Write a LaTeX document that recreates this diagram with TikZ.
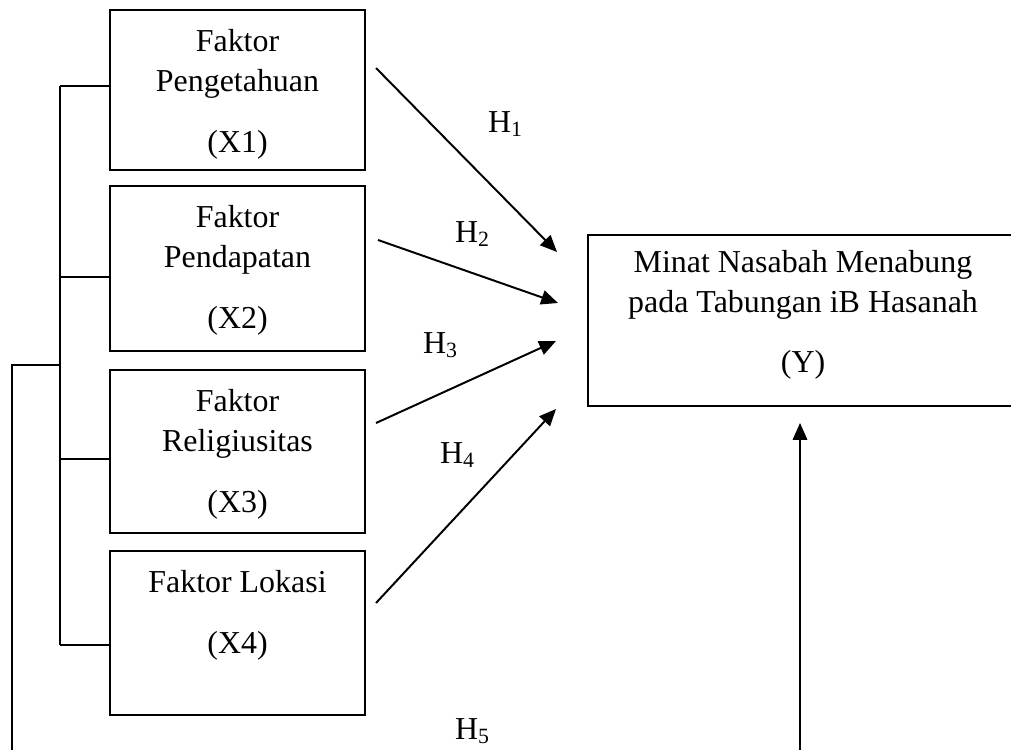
\documentclass[tikz,border=0pt]{standalone}
\usepackage{fontspec}
\setmainfont{Liberation Serif}
\usetikzlibrary{arrows.meta}

\tikzset{
  factor/.style={draw, line width=1.4pt, anchor=north west, inner sep=0pt,
    font=\fontsize{22.7}{28.5}\selectfont},
  hypo/.style={font=\fontsize{22.7}{28.5}\selectfont},
  link/.style={line width=1.4pt},
  arrow/.style={line width=1.4pt, -{Triangle[length=0.42cm, width=0.36cm]}}
}

% text of a box, set from its top edge
\newcommand{\boxtext}[4]{\parbox[c][#1][t]{#2}{\vspace*{#3}\centering #4}}
% Word-like subscript of a hypothesis
\newcommand{\hsub}[1]{\raisebox{-2.5pt}{\fontsize{15.5}{15.5}\selectfont #1}}

\begin{document}
\begin{tikzpicture}[x=0.025cm, y=-0.025cm]

    \useasboundingbox (0,0) rectangle (1011,749);
    \clip (0,0) rectangle (1011,749);

    % Draw the four factor boxes
    \node[factor] (x1) at (109,9)
      {\boxtext{4cm}{6.375cm}{0.48cm}{Faktor\\Pengetahuan\\[15pt](X1)}};
    \node[factor] (x2) at (109,185)
      {\boxtext{4.125cm}{6.375cm}{0.48cm}{Faktor\\Pendapatan\\[15pt](X2)}};
    \node[factor] (x3) at (109,369)
      {\boxtext{4.075cm}{6.375cm}{0.48cm}{Faktor\\Religiusitas\\[15pt](X3)}};
    \node[factor] (x4) at (109,550)
      {\boxtext{4.1cm}{6.375cm}{0.48cm}{Faktor Lokasi\\[15pt](X4)}};

    % Draw the dependent variable box (cut at the right edge)
    \node[factor] (y) at (587,234)
      {\boxtext{4.275cm}{10.75cm}{0.38cm}{Minat Nasabah Menabung\\pada Tabungan iB Hasanah\\[14pt](Y)}};

    % Bracket joining the factors
    \coordinate (s1) at (60,86);
    \coordinate (s2) at (60,277);
    \coordinate (s3) at (60,459);
    \coordinate (s4) at (60,645);
    \coordinate (s0) at (60,365);
    \coordinate (o1) at (12,365);
    \coordinate (o2) at (12,752);
    \draw[link] (s1) -- (s4);
    \foreach \i in {1,...,4}
      \draw[link] (s\i) -- (s\i -| x\i.west);
    \draw[link] (s0) -- (o1) -- (o2); % joint line to H5

    % Arrows of the partial hypotheses
    \coordinate (a1) at (376,68);  \coordinate (t1) at (557,252);
    \coordinate (a2) at (378,240); \coordinate (t2) at (558,303);
    \coordinate (a3) at (376,423); \coordinate (t3) at (556,341);
    \coordinate (a4) at (376,603); \coordinate (t4) at (556,409);
    \foreach \i in {1,...,4}
      \draw[arrow] (a\i) -- (t\i);

    % Joint arrow up to Y
    \coordinate (ybase) at (800,752);
    \coordinate (ytip) at (800,423);
    \draw[arrow] (ybase) -- (ytip);

    % Hypothesis labels
    \node[hypo] (h1) at (505,124) {H\hsub{1}};
    \node[hypo] (h2) at (472,234) {H\hsub{2}};
    \node[hypo] (h3) at (440,345) {H\hsub{3}};
    \node[hypo] (h4) at (457,455) {H\hsub{4}};
    \node[hypo] (h5) at (472,731) {H\hsub{5}};

\end{tikzpicture}
\end{document}
